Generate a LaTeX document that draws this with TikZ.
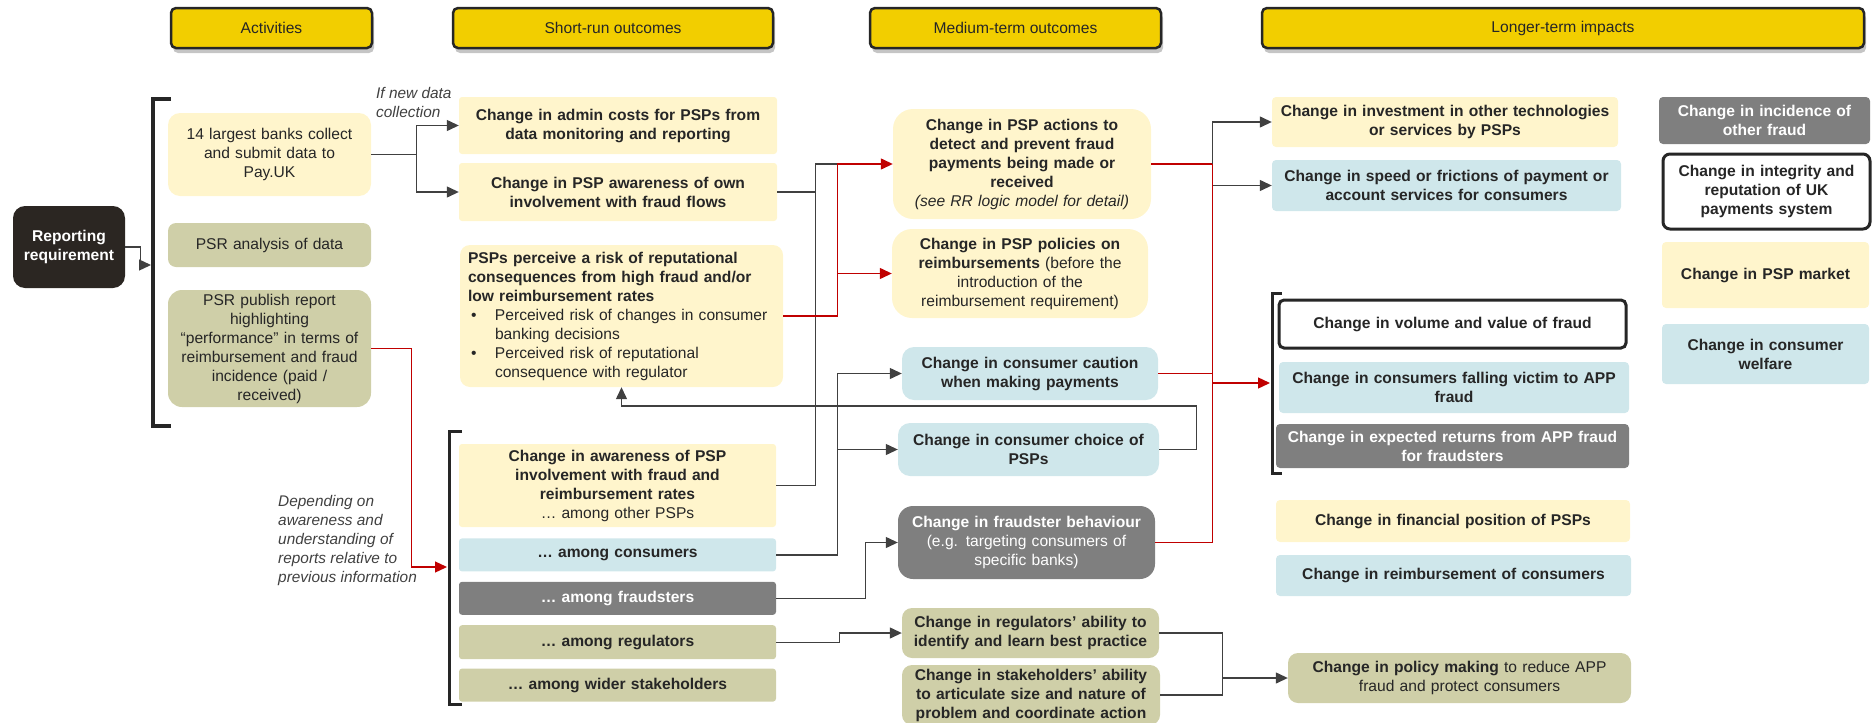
\documentclass[tikz,border=0pt]{standalone}
\usepackage{fontspec}
\setmainfont{Liberation Sans}
\usetikzlibrary{arrows.meta, shadows, positioning}
\definecolor{hdrgold}{HTML}{F2CE00}
\definecolor{paleyellow}{HTML}{FFF5CC}
\definecolor{paleblue}{HTML}{CFE7EB}
\definecolor{sage}{HTML}{CFCFA8}
\definecolor{midgrey}{HTML}{7F7F7F}
\definecolor{reportdark}{HTML}{2B2622}
\definecolor{linkred}{HTML}{C00000}
\definecolor{txt}{HTML}{262626}
\tikzstyle{basebox} = [rectangle, inner xsep=0pt, inner ysep=2pt, align=center, text=txt, font=\fontsize{15.6}{19}\selectfont]
\tikzstyle{heading} = [basebox, rounded corners=5pt, draw=txt, line width=2.5pt, fill=hdrgold, minimum height=40pt, drop shadow={shadow xshift=2pt, shadow yshift=-5pt, fill=black!45, opacity=0.5}]
\tikzstyle{yellowbox} = [basebox, fill=paleyellow, rounded corners=4pt]
\tikzstyle{bluebox} = [basebox, fill=paleblue, rounded corners=4pt]
\tikzstyle{sagebox} = [basebox, fill=sage, rounded corners=4pt]
\tikzstyle{greybox} = [basebox, fill=midgrey, text=white, rounded corners=4pt]
\tikzstyle{darkbox} = [basebox, fill=reportdark, text=white, rounded corners=12pt]
\tikzstyle{outlinebox} = [basebox, fill=white, draw=txt, line width=3pt, rounded corners=5pt]
\tikzstyle{note} = [inner sep=0pt, align=left, text=black!75, font=\fontsize{15.4}{19}\selectfont\itshape]
\tikzstyle{link} = [line width=1.3pt, draw=black!75]
\tikzstyle{arrow} = [link, -{Triangle[length=12pt,width=11pt]}]
\tikzstyle{redlink} = [line width=1.3pt, draw=linkred]
\tikzstyle{redarrow} = [redlink, -{Triangle[length=12pt,width=11pt]}]
\tikzstyle{bracket} = [draw=txt, line width=3pt]

\begin{document}
\begin{tikzpicture}[x=1pt, y=-1pt, node distance=10pt]
    \useasboundingbox (0,0) rectangle (1872,723);

    % column headings
    \node (hdract) [heading, minimum width=201pt] at (271.5,28) {Activities};
    \node (hdrshort) [heading, minimum width=320pt] at (613,28) {Short-run outcomes};
    \node (hdrmed) [heading, minimum width=291pt] at (1015.5,28) {Medium-term outcomes};
    \node (hdrlong) [heading, minimum width=602pt] at (1563,28) {Longer-term impacts};

    % activities
    \node (reporting) [darkbox, text width=112pt, minimum height=82pt] at (69,247) {\textbf{Reporting}\\\textbf{requirement}};
    \node (banks) [yellowbox, rounded corners=12pt, text width=203pt, minimum height=83pt] at (269.5,154.5) {14 largest banks collect\\and submit data to\\Pay.UK};
    \node (analysis) [sagebox, rounded corners=8pt, text width=203pt, minimum height=44pt] at (269.5,245) {PSR analysis of data};
    \node (publish) [sagebox, rounded corners=14pt, text width=203pt, minimum height=117pt] at (269.5,348.5) {PSR publish report\\highlighting\\“performance” in terms of\\reimbursement and fraud\\incidence (paid /\\received)};
    \node (ifnew) [note, anchor=west] at (376,102) {If new data\\collection};
    \node (depending) [note, anchor=west] at (278,541) {Depending on\\awareness and\\understanding of\\reports relative to\\previous information};

    % short-run outcomes
    \node (admin) [yellowbox, rounded corners=3pt, text width=318pt, minimum height=57pt] at (618,125.5) {\textbf{Change in admin costs for PSPs from}\\\textbf{data monitoring and reporting}};
    \node (awareown) [yellowbox, rounded corners=3pt, text width=318pt, minimum height=58pt] at (618,192) {\textbf{Change in PSP awareness of own}\\\textbf{involvement with fraud flows}};
    \node (perceive) [yellowbox, rounded corners=10pt, align=left, inner xsep=8pt, text width=307pt, minimum height=142pt] at (621.5,316) {\textbf{PSPs perceive a risk of reputational}\\\textbf{consequences from high fraud and/or}\\\textbf{low reimbursement rates}\\\makebox[27pt][l]{\hspace{3pt}\textbullet}Perceived risk of changes in consumer\\\hspace*{27pt}banking decisions\\\makebox[27pt][l]{\hspace{3pt}\textbullet}Perceived risk of reputational\\\hspace*{27pt}consequence with regulator};
    \node (awarepsp) [yellowbox, rounded corners=3pt, text width=317pt, minimum height=83pt] at (617.5,485.5) {\textbf{Change in awareness of PSP}\\\textbf{involvement with fraud and}\\\textbf{reimbursement rates}\\… among other PSPs};
    \node (amongcons) [bluebox, rounded corners=3pt, text width=317pt, minimum height=33pt, below=11pt of awarepsp] {\textbf{… among consumers}};
    \node (amongfraud) [greybox, rounded corners=3pt, text width=317pt, minimum height=33pt, below=of amongcons] {\textbf{… among fraudsters}};
    \node (amongreg) [sagebox, rounded corners=3pt, text width=317pt, minimum height=34pt, below=of amongfraud] {\textbf{… among regulators}};
    \node (amongwider) [sagebox, rounded corners=3pt, text width=317pt, minimum height=33pt, below=9pt of amongreg] {\textbf{… among wider stakeholders}};

    % medium-term outcomes
    \node (actions) [yellowbox, rounded corners=20pt, text width=258pt, minimum height=110pt] at (1022,164) {\textbf{Change in PSP actions to}\\\textbf{detect and prevent fraud}\\\textbf{payments being made or}\\\textbf{received}\\\textit{(see RR logic model for detail)}};
    \node (policies) [yellowbox, rounded corners=20pt, text width=256pt, minimum height=89pt] at (1020,273.5) {\textbf{Change in PSP policies on}\\\textbf{reimbursements} (before the\\introduction of the\\reimbursement requirement)};
    \node (caution) [bluebox, rounded corners=12pt, text width=256pt, minimum height=53pt] at (1030,373.5) {\textbf{Change in consumer caution}\\\textbf{when making payments}};
    \node (choice) [bluebox, rounded corners=12pt, text width=261pt, minimum height=53pt] at (1028.5,449.5) {\textbf{Change in consumer choice of}\\\textbf{PSPs}};
    \node (fraudbeh) [greybox, rounded corners=15pt, text width=257pt, minimum height=73pt] at (1026.5,542.5) {\textbf{Change in fraudster behaviour}\\(e.g. targeting consumers of\\specific banks)};
    \node (regability) [sagebox, rounded corners=10pt, text width=257pt, minimum height=50pt] at (1030.5,633) {\textbf{Change in regulators’ ability to}\\\textbf{identify and learn best practice}};
    \node (stakeability) [sagebox, rounded corners=10pt, text width=258pt, minimum height=60pt] at (1031,695) {\textbf{Change in stakeholders’ ability}\\\textbf{to articulate size and nature of}\\\textbf{problem and coordinate action}};

    % longer-term impacts
    \node (investment) [yellowbox, text width=346pt, minimum height=50pt] at (1445,122) {\textbf{Change in investment in other technologies}\\\textbf{or services by PSPs}};
    \node (speed) [bluebox, text width=349pt, minimum height=51pt] at (1446.5,185.5) {\textbf{Change in speed or frictions of payment or}\\\textbf{account services for consumers}};
    \node (volume) [outlinebox, text width=347pt, minimum height=48pt] at (1452.5,324) {\textbf{Change in volume and value of fraud}};
    \node (victims) [bluebox, text width=350pt, minimum height=51pt] at (1454,387.5) {\textbf{Change in consumers falling victim to APP}\\\textbf{fraud}};
    \node (returns) [greybox, text width=353pt, minimum height=44pt] at (1452.5,446) {\textbf{Change in expected returns from APP fraud}\\\textbf{for fraudsters}};
    \node (financial) [yellowbox, text width=354pt, minimum height=42pt] at (1453,521) {\textbf{Change in financial position of PSPs}};
    \node (reimb) [bluebox, text width=355pt, minimum height=41pt] at (1453.5,575.5) {\textbf{Change in reimbursement of consumers}};
    \node (policymaking) [sagebox, rounded corners=10pt, text width=343pt, minimum height=50pt] at (1459.5,678) {\textbf{Change in policy making} to reduce APP\\fraud and protect consumers};
    \node (incidence) [greybox, text width=211pt, minimum height=47pt] at (1764.5,120.5) {\textbf{Change in incidence of}\\\textbf{other fraud}};
    \node (integrity) [outlinebox, rounded corners=7pt, text width=207pt, minimum height=75pt] at (1766.5,191.5) {\textbf{Change in integrity and}\\\textbf{reputation of UK}\\\textbf{payments system}};
    \node (market) [yellowbox, text width=207pt, minimum height=66pt] at (1765.5,275) {\textbf{Change in PSP market}};
    \node (welfare) [bluebox, text width=207pt, minimum height=60pt] at (1765.5,354) {\textbf{Change in consumer}\\\textbf{welfare}};

    % brackets
    \draw [bracket, line width=4pt] (171,99) -- (153,99) -- (153,426) -- (171,426);
    \draw [bracket] (462,431) -- (449,431) -- (449,704) -- (462,704);
    \draw [bracket] (1282,293) -- (1272,293) -- (1272,473) -- (1282,473);
    \coordinate (bra) at (151,265);
    \coordinate (brb) at (447,567);
    \coordinate (brc) at (1270,383);

    % connectors
    \draw [arrow] (reporting.east) -- ++(15,0) |- (bra);
    \draw [link] (banks.east) -- ++(45,0) coordinate (jbanks);
    \draw [arrow] (jbanks) |- (admin.west);
    \draw [arrow] (jbanks) |- (awareown.west);
    \coordinate (jpsp) at ([xshift=-55pt]actions.west);
    \draw [link] (awareown.east) -- ++(38,0) |- (jpsp);
    \draw [link] (awarepsp.east) -- ++(39,0) |- (jpsp);
    \coordinate (jcons) at ([xshift=-64pt]caution.west);
    \draw [arrow] (amongcons.east) -| (jcons) -- (caution.west);
    \draw [arrow] (jcons |- choice.west) -- (choice.west);
    \draw [arrow] (amongfraud.east) -- ++(89,0) |- (fraudbeh.west);
    \draw [arrow] (amongreg.east) -- ++(63,0) |- (regability.west);
    \draw [arrow] (choice.east) -- ++(37,0) -- ++(0,-43.5) -| (perceive.south);
    \coordinate (jlong) at ([xshift=61pt]actions.east);
    \draw [arrow] (jlong) |- (investment.west);
    \draw [arrow] (jlong) |- (speed.west);
    \coordinate (jpol) at ([xshift=63pt]regability.east);
    \draw [link] (regability.east) -- (jpol) |- (stakeability.east);
    \draw [arrow] (jpol |- policymaking.west) -- (policymaking.west);
    \draw [redarrow] (perceive.east) -| (jpsp) -- (actions.west);
    \draw [redarrow] (perceive.east) -| (jpsp |- policies.west) -- (policies.west);
    \draw [redlink] (actions.east) -- (jlong);
    \draw [redarrow] (jlong) |- (brc);
    \draw [redlink] (caution.east) -| (jlong |- brc);
    \draw [redlink] (fraudbeh.east) -| (jlong |- brc);
    \draw [redarrow] (publish.east) -- ++(40,0) |- (brb);
\end{tikzpicture}
\end{document}
